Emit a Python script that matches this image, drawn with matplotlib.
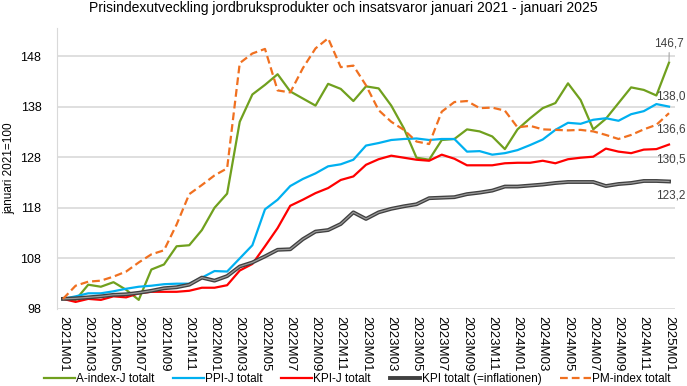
import matplotlib.pyplot as plt
import numpy as np

plt.rcParams['font.family'] = ['Liberation Sans', 'DejaVu Sans']

# Months 2021M01 .. 2025M01
months = [f"{y}M{m:02d}" for y in range(2021, 2026) for m in range(1, 13)][:49]

a_index = [100.0, 99.8, 102.8, 102.4, 103.3, 101.8, 99.8, 105.8, 106.8, 110.4,
           110.6, 113.6, 118.0, 120.8, 135.0, 140.4, 142.3, 144.4, 141.0, 139.6,
           138.2, 142.5, 141.5, 139.1, 142.0, 141.6, 138.2, 133.7, 127.9, 127.5,
           131.4, 131.6, 133.5, 133.1, 132.1, 129.6, 133.5, 135.7, 137.7, 138.7,
           142.6, 139.3, 133.5, 135.6, 138.7, 141.8, 141.3, 140.2, 146.7]

ppi_j = [100.0, 100.5, 101.1, 101.1, 101.5, 102.0, 102.4, 102.6, 102.9, 103.0,
         103.0, 104.2, 105.5, 105.4, 108.0, 110.6, 117.7, 119.6, 122.3, 123.7,
         124.8, 126.2, 126.6, 127.5, 130.3, 130.8, 131.4, 131.6, 131.7, 131.4,
         131.6, 131.6, 129.1, 129.2, 128.5, 128.8, 129.4, 130.4, 131.5, 133.4,
         134.8, 134.6, 135.4, 135.7, 135.2, 136.5, 137.1, 138.5, 138.0]

kpi_j = [100.0, 99.4, 100.0, 99.8, 100.5, 100.3, 101.1, 101.4, 101.4, 101.4,
         101.6, 102.2, 102.2, 102.7, 105.6, 106.9, 110.4, 114.0, 118.4, 119.6,
         120.9, 121.9, 123.5, 124.2, 126.5, 127.6, 128.3, 127.9, 127.5, 127.3,
         128.5, 127.7, 126.4, 126.4, 126.4, 126.8, 126.9, 126.9, 127.3, 126.8,
         127.6, 127.9, 128.1, 129.7, 129.1, 128.8, 129.5, 129.6, 130.5]

kpi_tot = [100.0, 100.1, 100.3, 100.5, 100.8, 100.9, 101.2, 101.6, 102.1, 102.3,
           102.8, 104.2, 103.6, 104.5, 106.4, 107.2, 108.4, 109.7, 109.8, 111.8,
           113.3, 113.6, 114.8, 117.1, 115.8, 117.1, 117.8, 118.3, 118.7, 119.9,
           120.0, 120.1, 120.7, 121.0, 121.4, 122.2, 122.2, 122.4, 122.6, 122.9,
           123.1, 123.1, 123.1, 122.3, 122.7, 122.9, 123.3, 123.3, 123.2]

pm_index = [100.0, 102.6, 103.4, 103.6, 104.4, 105.4, 107.2, 108.8, 109.6, 114.7,
            120.7, 122.5, 124.4, 125.8, 146.6, 148.5, 149.4, 141.2, 140.8, 145.6,
            149.5, 151.5, 145.8, 146.1, 142.2, 137.3, 135.0, 133.4, 131.1, 130.6,
            137.0, 138.9, 139.1, 137.7, 137.8, 137.2, 133.9, 134.2, 133.5, 133.4,
            133.3, 133.4, 133.1, 132.4, 131.6, 132.4, 133.5, 134.4, 136.7]

x = np.arange(len(months))

fig = plt.figure(figsize=(6.87, 3.86), dpi=100)
ax = fig.add_axes([0.0825, 0.1995, 0.9005, 0.7275])

ax.plot(x, a_index, color='#70A01E', lw=1.6, label='A-index-J totalt')
ax.plot(x, ppi_j, color='#00B0F0', lw=1.6, label='PPI-J totalt')
ax.plot(x, kpi_j, color='#FF0000', lw=1.6, label='KPI-J totalt')
# KPI totalt drawn as a dark line with a lighter centre
ax.plot(x, kpi_tot, color='#404040', lw=2.8, label='KPI totalt (=inflationen)')
ax.plot(x, kpi_tot, color='#9a9a9a', lw=0.9)
ax.plot(x, pm_index, color='#F07020', lw=1.6, ls=(0, (3.5, 1.8)), label='PM-index totalt')

ax.set_xlim(-0.5, len(months) - 0.5)
ax.set_ylim(98, 153.5)
ax.set_yticks(np.arange(98, 149, 10))
ax.set_yticklabels([str(v) for v in range(98, 149, 10)], fontsize=9)
ax.set_xticks(x[::2])
ax.set_xticklabels(months[::2], rotation=270, fontsize=9.5)
ax.tick_params(axis='both', length=0, colors='#000000')
ax.tick_params(axis='y', pad=11)
ax.tick_params(axis='x', pad=5)
ax.grid(axis='y', color='#d9d9d9', lw=1.2)
ax.set_axisbelow(True)
for s in ['top', 'right', 'bottom']:
    ax.spines[s].set_visible(False)
ax.spines['left'].set_color('#d9d9d9')
ax.set_ylabel('januari 2021=100', fontsize=8.5, labelpad=4)

# End value labels
def end_label(vals, txt, dx, dy, leader=False):
    ax.annotate(txt, xy=(x[-1], vals[-1]), xytext=(dx, dy), textcoords='offset points',
                fontsize=8.5, color='#404040', ha='left', va='center',
                arrowprops=dict(arrowstyle='-', color='#a6a6a6', lw=0.8, shrinkA=0, shrinkB=1) if leader else None)

end_label(a_index, '146,7', -10.5, 13.5, leader=True)
end_label(ppi_j, '138,0', -9, 7.5)
end_label(pm_index, '136,6', -9, -11.5)
end_label(kpi_j, '130,5', -9, -11)
end_label(kpi_tot, '123,2', -9, -10)

fig.text(0.5, 0.978, 'Prisindexutveckling jordbruksprodukter och insatsvaror januari 2021 - januari 2025',
         ha='center', va='center', fontsize=10)

handles, labels = ax.get_legend_handles_labels()
fig.legend(handles, labels, loc='center', bbox_to_anchor=(0.52, 0.018), ncol=5, frameon=False,
           fontsize=8.5, handlelength=2.6, columnspacing=1.6, handletextpad=0.1)

fig.savefig('out.png', dpi=100)
